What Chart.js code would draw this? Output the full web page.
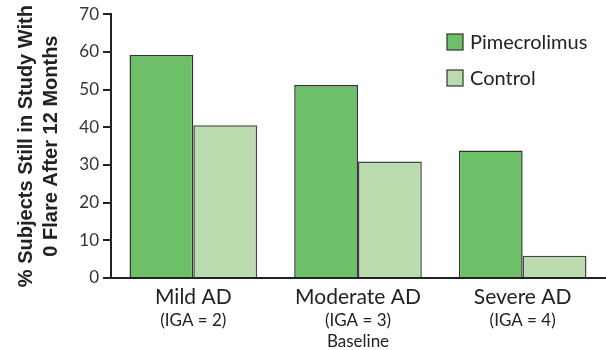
<!DOCTYPE html>
<html lang="en">
<head>
<meta charset="UTF-8">
<title>Subjects without flare by baseline severity</title>
<script src="https://cdn.jsdelivr.net/npm/chart.js"></script>
<style>
  html, body { margin: 0; padding: 0; background: #fff; }
  #chart { display: block; }
</style>
</head>
<body>
<canvas id="chart" width="606" height="350"></canvas>
<script>
// data
const severity = ["Mild AD", "Moderate AD", "Severe AD"];
const igaLabels = ["(IGA = 2)", "(IGA = 3)", "(IGA = 4)"];
const pimecrolimus = [59.2, 51.2, 33.8];
const control = [40.5, 30.9, 5.9];
const yTicks = [0, 10, 20, 30, 40, 50, 60, 70];

const ink = "#222";
const textFont = "Lato";

// legend drawn as a small list in the upper right corner
const boxLegend = {
  id: "boxLegend",
  afterDraw(chart) {
    const ctx = chart.ctx;
    const rows = [42, 78];
    ctx.save();
    chart.data.datasets.forEach((ds, i) => {
      const y = rows[i];
      ctx.fillStyle = ds.backgroundColor;
      ctx.fillRect(447, y - 8, 16, 16);
      ctx.strokeStyle = "#333";
      ctx.lineWidth = 1.2;
      ctx.strokeRect(447, y - 8, 16, 16);
      ctx.fillStyle = ink;
      ctx.font = "20px " + textFont;
      ctx.textBaseline = "middle";
      ctx.fillText(ds.label, 470, y + 1);
    });
    ctx.restore();
  }
};

new Chart(document.getElementById("chart"), {
  type: "bar",
  data: {
    labels: severity,
    datasets: [
      {
        label: "Pimecrolimus",
        data: pimecrolimus,
        backgroundColor: "#6dc068",
        borderColor: "#333",
        borderWidth: 1.5,
        borderSkipped: "bottom"
      },
      {
        label: "Control",
        data: control,
        backgroundColor: "#badcae",
        borderColor: "#444",
        borderWidth: 1.5,
        borderSkipped: "bottom"
      }
    ]
  },
  options: {
    responsive: false,
    animation: false,
    layout: { padding: { top: 11, right: 1, bottom: 0, left: 0 } },
    datasets: { bar: { barPercentage: 1, categoryPercentage: 0.775 } },
    plugins: {
      legend: { display: false },
      tooltip: { enabled: false }
    },
    scales: {
      x: {
        type: "category",
        position: "bottom",
        offset: true,
        grid: { display: false, drawTicks: false },
        border: { display: true, color: ink, width: 2 },
        ticks: { color: ink, padding: 7, font: { family: textFont, size: 21 } },
        afterFit(scale) { scale.height = 31; }
      },
      x2: {
        type: "category",
        position: "bottom",
        labels: igaLabels,
        offset: true,
        grid: { display: false, drawTicks: false },
        border: { display: false },
        ticks: { color: ink, padding: 1, font: { family: textFont, size: 17 } },
        title: {
          display: true,
          text: "Baseline",
          color: ink,
          padding: { top: 0, bottom: 0 },
          font: { family: textFont, size: 17, lineHeight: 1 }
        },
        afterFit(scale) { scale.height = 41; }
      },
      y: {
        min: 0,
        max: 70,
        afterBuildTicks(scale) { scale.ticks = yTicks.map(v => ({ value: v })); },
        grid: { drawOnChartArea: false, drawTicks: true, tickLength: 8, color: ink, lineWidth: 2 },
        border: { display: true, color: ink, width: 2 },
        ticks: { color: "#333", padding: 4, font: { family: textFont, size: 17 } },
        title: {
          display: true,
          text: ["% Subjects Still in Study With", "0 Flare After 12 Months"],
          color: ink,
          padding: { top: 14, bottom: 0 },
          font: { family: "Liberation Sans", size: 20, weight: "bold", lineHeight: 1.25 }
        },
        afterFit(scale) { scale.width = 111; }
      }
    }
  },
  plugins: [boxLegend]
});
</script>
</body>
</html>
